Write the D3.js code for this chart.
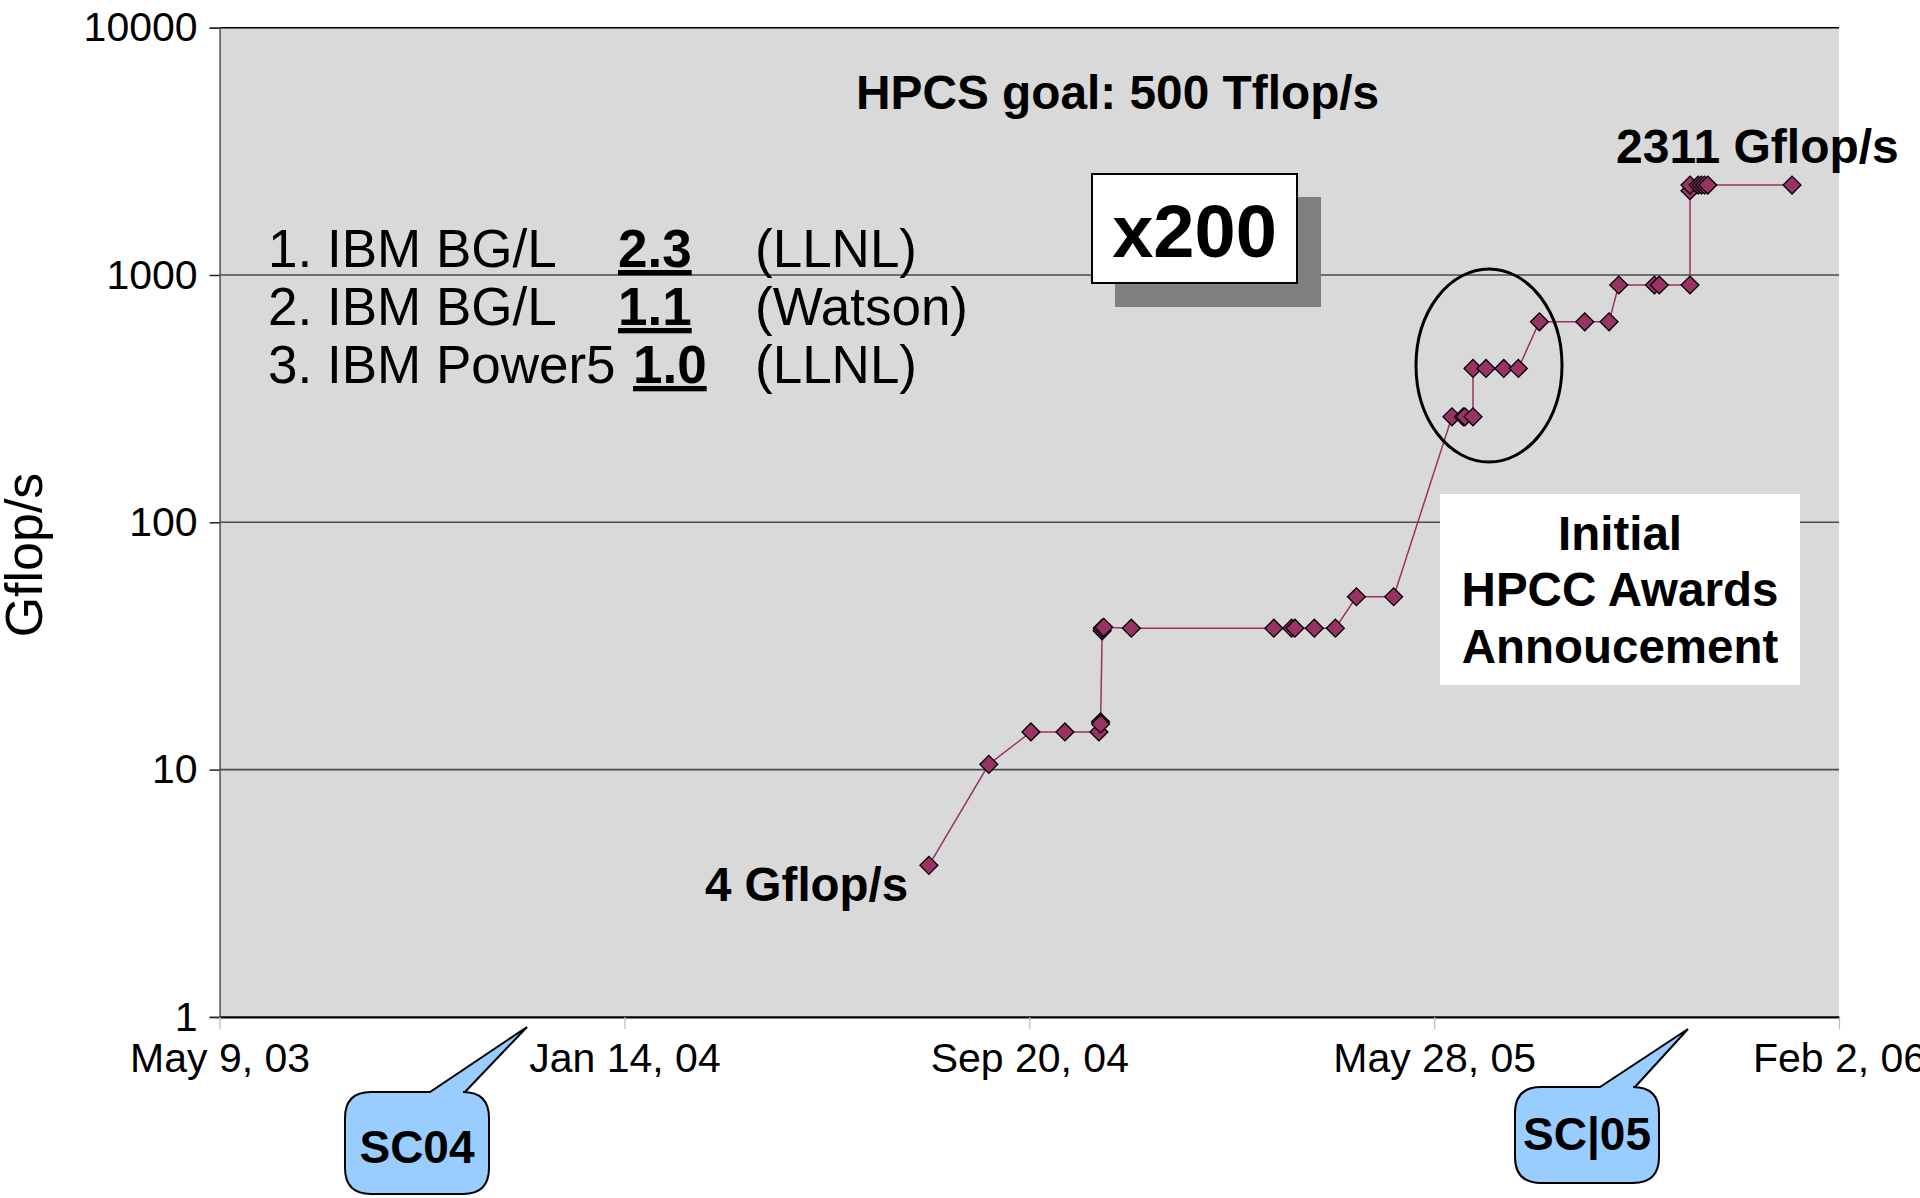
<!DOCTYPE html>
<html>
<head>
<meta charset="utf-8">
<script src="https://cdn.jsdelivr.net/npm/d3@7"></script>
<style>
  html, body { margin: 0; padding: 0; background: #ffffff; }
  svg { display: block; font-family: "Liberation Sans", Arial, sans-serif; }
</style>
</head>
<body>
<svg id="chart" width="1920" height="1198"></svg>
<script>
// ---------------- data ----------------
const dates = [
  "2004-07-20", "2004-08-26", "2004-09-21", "2004-10-12", "2004-11-02",
  "2004-11-03", "2004-11-03", "2004-11-04", "2004-11-04", "2004-11-05",
  "2004-11-22", "2005-02-18", "2005-03-01", "2005-03-03", "2005-03-15",
  "2005-03-28", "2005-04-10", "2005-05-03", "2005-06-08", "2005-06-15",
  "2005-06-16", "2005-06-21", "2005-06-21", "2005-06-29", "2005-07-10",
  "2005-07-19", "2005-08-01", "2005-08-29", "2005-09-13", "2005-09-19",
  "2005-10-11", "2005-10-14", "2005-11-02", "2005-11-02", "2005-11-02",
  "2005-11-07", "2005-11-09", "2005-11-11", "2005-11-13", "2006-01-04"
];
const gflops = [
  4.1, 10.5, 14.2, 14.2, 14.2,
  15.6, 15.3, 36.4, 37.3, 37.6,
  37.3, 37.3, 37.3, 37.3, 37.3,
  37.3, 50.0, 50.0, 267, 267,
  267, 267, 419, 419, 419,
  419, 647, 647, 647, 911,
  911, 911, 911, 2193, 2311,
  2311, 2311, 2311, 2311, 2311
];
const xDomain = ["2003-05-09", "2006-02-02"];
const xTickDates = ["2003-05-09", "2004-01-14", "2004-09-20", "2005-05-28", "2006-02-02"];
const xTickLabels = ["May 9, 03", "Jan 14, 04", "Sep 20, 04", "May 28, 05", "Feb 2, 06"];
const yTicks = [1, 10, 100, 1000, 10000];
const yTickLabels = ["1", "10", "100", "1000", "10000"];
const yDomain = [1, 10000];
const rankLabels = ["1. IBM BG/L", "2. IBM BG/L", "3. IBM Power5"];
const rankValues = ["2.3", "1.1", "1.0"];
const rankSites = ["(LLNL)", "(Watson)", "(LLNL)"];
const awardsLines = ["Initial", "HPCC Awards", "Annoucement"];

// ---------------- setup ----------------
const parse = d3.utcParse("%Y-%m-%d");
const svg = d3.select("#chart");
const L = 219.6, R = 1839, T = 27.7, B = 1016.9;
const FONT = '"Liberation Sans", Arial, sans-serif';

const x = d3.scaleUtc().domain(xDomain.map(parse)).range([L, R]);
const y = d3.scaleLog().domain(yDomain).range([B, T]);

const points = dates.map((d, i) => ({ date: parse(d), v: gflops[i] }));

// plot background
svg.append("rect")
  .attr("x", L).attr("y", T)
  .attr("width", R - L).attr("height", B - T)
  .attr("fill", "#d9d9d9");

// gridlines
svg.append("g").selectAll("line")
  .data(yTicks.filter(t => t > 1 && t < 10000))
  .join("line")
  .attr("x1", L).attr("x2", R)
  .attr("y1", d => y(d)).attr("y2", d => y(d))
  .attr("stroke", "#4a4a4a").attr("stroke-width", 1.6);

// top border
svg.append("line")
  .attr("x1", L).attr("x2", R).attr("y1", y(10000)).attr("y2", y(10000))
  .attr("stroke", "#000").attr("stroke-width", 1.6);

// y axis
const yAxis = d3.axisLeft(y)
  .tickValues(yTicks)
  .tickFormat((d, i) => yTickLabels[i])
  .tickSize(10)
  .tickPadding(12);
const gy = svg.append("g").attr("transform", `translate(${L},0)`).call(yAxis);
gy.select(".domain").attr("stroke", "#555").attr("stroke-width", 1.5);
gy.selectAll(".tick line").attr("stroke", "#222").attr("stroke-width", 1.5);
gy.selectAll(".tick text")
  .attr("font-family", FONT).attr("font-size", 41).attr("fill", "#000");

// x axis
const xAxis = d3.axisBottom(x)
  .tickValues(xTickDates.map(parse))
  .tickFormat((d, i) => xTickLabels[i])
  .tickSize(12)
  .tickSizeOuter(0)
  .tickPadding(14);
const gx = svg.append("g").attr("transform", `translate(0,${B})`).call(xAxis);
gx.select(".domain").attr("stroke", "#000").attr("stroke-width", 2.2);
gx.selectAll(".tick line").attr("stroke", "#bbbbbb").attr("stroke-width", 1.2);
gx.selectAll(".tick text")
  .attr("font-family", FONT).attr("font-size", 41).attr("fill", "#000");

// y axis title
svg.append("text")
  .attr("transform", "translate(42,555) rotate(-90)")
  .attr("text-anchor", "middle")
  .attr("font-family", FONT).attr("font-size", 52)
  .text("Gflop/s");

// series line
const line = d3.line().x(d => x(d.date)).y(d => y(d.v));
svg.append("path")
  .datum(points)
  .attr("d", line)
  .attr("fill", "none")
  .attr("stroke", "#993366")
  .attr("stroke-width", 1.5);

// markers (diamonds)
const sym = d3.symbol().type(d3.symbolSquare).size(160);
svg.append("g").selectAll("path")
  .data(points)
  .join("path")
  .attr("d", sym)
  .attr("transform", d => `translate(${x(d.date)},${y(d.v)}) rotate(45)`)
  .attr("fill", "#993366")
  .attr("stroke", "#000")
  .attr("stroke-width", 1.3);

// ---------------- annotations ----------------
// ranking list
const rankG = svg.append("g").attr("font-family", FONT).attr("font-size", 53).attr("fill", "#000");
const rankBaselines = [267, 325, 383];
const rankValueX = [618, 618, 633];
rankLabels.forEach((t, i) => {
  rankG.append("text").attr("x", 268).attr("y", rankBaselines[i]).text(t);
  rankG.append("text").attr("x", rankValueX[i]).attr("y", rankBaselines[i])
    .attr("font-weight", "bold").attr("text-decoration", "underline").text(rankValues[i]);
  rankG.append("text").attr("x", 755).attr("y", rankBaselines[i]).text(rankSites[i]);
});

// HPCS goal
svg.append("text")
  .attr("x", 856).attr("y", 109)
  .attr("font-family", FONT).attr("font-size", 47.8).attr("font-weight", "bold")
  .text("HPCS goal: 500 Tflop/s");

// 2311 Gflop/s
svg.append("text")
  .attr("x", 1616).attr("y", 163)
  .attr("font-family", FONT).attr("font-size", 48).attr("font-weight", "bold")
  .text("2311 Gflop/s");

// 4 Gflop/s
svg.append("text")
  .attr("x", 705).attr("y", 901)
  .attr("font-family", FONT).attr("font-size", 47.5).attr("font-weight", "bold")
  .text("4 Gflop/s");

// x200 box with shadow
svg.append("rect")
  .attr("x", 1115).attr("y", 197).attr("width", 206).attr("height", 110)
  .attr("fill", "#808080");
svg.append("rect")
  .attr("x", 1092).attr("y", 174).attr("width", 205).attr("height", 109)
  .attr("fill", "#ffffff").attr("stroke", "#000").attr("stroke-width", 2);
svg.append("text")
  .attr("x", 1194.5).attr("y", 257)
  .attr("text-anchor", "middle")
  .attr("font-family", FONT).attr("font-size", 74).attr("font-weight", "bold")
  .text("x200");

// ellipse
svg.append("ellipse")
  .attr("cx", 1489).attr("cy", 365.5).attr("rx", 73).attr("ry", 96.5)
  .attr("fill", "none").attr("stroke", "#000").attr("stroke-width", 3);

// awards box
svg.append("rect")
  .attr("x", 1440).attr("y", 494).attr("width", 360).attr("height", 191)
  .attr("fill", "#ffffff");
const awardsBaselines = [550, 606, 663];
svg.append("g").selectAll("text")
  .data(awardsLines)
  .join("text")
  .attr("x", 1620).attr("y", (d, i) => awardsBaselines[i])
  .attr("text-anchor", "middle")
  .attr("font-family", FONT).attr("font-size", 47.5).attr("font-weight", "bold")
  .text(d => d);

// callouts
function callout(x0, x1, y0, y1, xa, xb, tx, ty, r) {
  const p = d3.path();
  p.moveTo(x0 + r, y0);
  p.lineTo(xa, y0);
  p.lineTo(tx, ty);
  p.lineTo(xb, y0);
  p.lineTo(x1 - r, y0);
  p.quadraticCurveTo(x1, y0, x1, y0 + r);
  p.lineTo(x1, y1 - r);
  p.quadraticCurveTo(x1, y1, x1 - r, y1);
  p.lineTo(x0 + r, y1);
  p.quadraticCurveTo(x0, y1, x0, y1 - r);
  p.lineTo(x0, y0 + r);
  p.quadraticCurveTo(x0, y0, x0 + r, y0);
  p.closePath();
  return p.toString();
}
svg.append("path")
  .attr("d", callout(345, 489, 1092, 1194, 430, 465, 527, 1027, 26))
  .attr("fill", "#99ccff").attr("stroke", "#000").attr("stroke-width", 2);
svg.append("text")
  .attr("x", 417).attr("y", 1163).attr("text-anchor", "middle")
  .attr("font-family", FONT).attr("font-size", 46).attr("font-weight", "bold")
  .text("SC04");
svg.append("path")
  .attr("d", callout(1515, 1659, 1087, 1183, 1600, 1635, 1688, 1029, 26))
  .attr("fill", "#99ccff").attr("stroke", "#000").attr("stroke-width", 2);
svg.append("text")
  .attr("x", 1587).attr("y", 1150).attr("text-anchor", "middle")
  .attr("font-family", FONT).attr("font-size", 46).attr("font-weight", "bold")
  .text("SC|05");
</script>
</body>
</html>
